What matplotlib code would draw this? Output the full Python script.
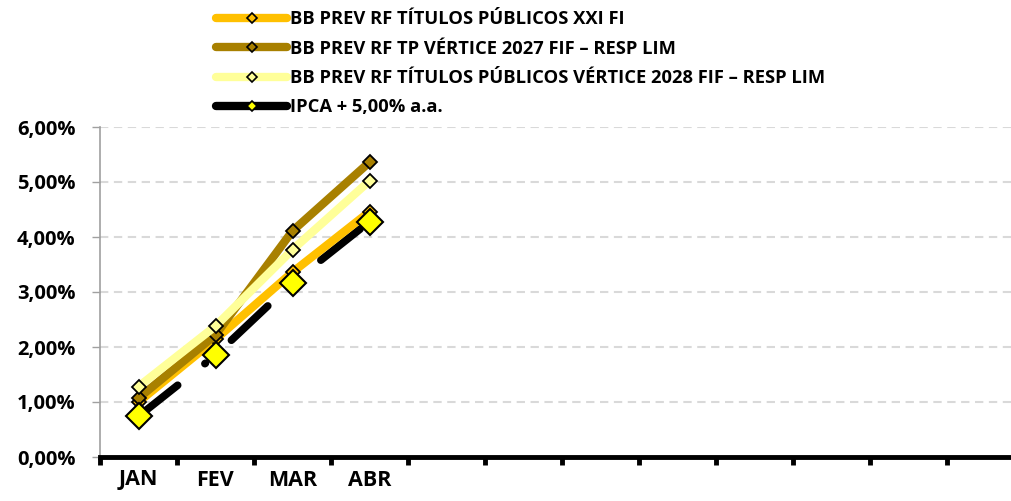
import matplotlib
matplotlib.use("Agg")
import matplotlib.pyplot as plt
from matplotlib.lines import Line2D
from matplotlib.ticker import FuncFormatter, MultipleLocator

plt.rcParams['font.family'] = ['Open Sans', 'DejaVu Sans']
plt.rcParams['font.weight'] = 'bold'
plt.rcParams['lines.scale_dashes'] = False

# data (percent, accumulated)
months = ["JAN", "FEV", "MAR", "ABR", "", "", "", "", "", "", "", ""]
xxi = [1.00, 2.14, 3.36, 4.46]
v2027 = [1.07, 2.22, 4.11, 5.36]
v2028 = [1.28, 2.38, 3.77, 5.02]
ipca = [0.74, 1.85, 3.17, 4.28]

names = ["BB PREV RF TÍTULOS PÚBLICOS XXI FI",
         "BB PREV RF TP VÉRTICE 2027 FIF – RESP LIM",
         "BB PREV RF TÍTULOS PÚBLICOS VÉRTICE 2028 FIF – RESP LIM",
         "IPCA + 5,00% a.a."]
colors = ["#FFC000", "#A88000", "#FFFF99", "#000000"]

fig = plt.figure(figsize=(10.11, 5.01), dpi=100)
ax = fig.add_axes([100 / 1011, 44 / 501, 924 / 1011, 330 / 501])

x = list(range(len(ipca)))

# IPCA line goes under the funds, markers on top
ax.plot(x, ipca, color="black", lw=5.5, ls=(0, (36, 25, 0.5, 25)),
        dash_capstyle="round", zorder=2)
for vals, c in zip([xxi, v2027, v2028], colors[:3]):
    ax.plot(x, vals, color=c, lw=6, solid_capstyle="round", zorder=3,
            marker="D", ms=7, mfc=c, mec="black", mew=1.3)
ax.plot(x, ipca, ls="none", marker="D", ms=13, mfc="#FFFF00", mec="black",
        mew=1.5, zorder=5)

ax.set_xlim(-0.5, 11.5)
ax.set_ylim(0, 6)
ax.yaxis.set_major_locator(MultipleLocator(1))
ax.yaxis.set_major_formatter(FuncFormatter(lambda v, p: f"{v:.2f}%".replace(".", ",")))
ax.grid(axis="y", color="#D9D9D9", lw=1.5, ls=(0, (6, 4)))
ax.set_axisbelow(True)

ax.set_xticks([i - 0.5 for i in range(13)])
ax.set_xticklabels([])
ax.set_xticks(range(12), minor=True)
ax.set_xticklabels(months, minor=True, fontsize=15.5, fontweight="bold")
ax.tick_params(axis="x", which="major", length=6, width=3.5, color="black", direction="out")
ax.tick_params(axis="x", which="minor", length=0, pad=9)
ax.tick_params(axis="y", length=5.5, width=1, color="#A0A0A0", labelsize=14.5, pad=12)

for s in ["top", "right"]:
    ax.spines[s].set_visible(False)
ax.spines["left"].set_color("#A0A0A0")
ax.spines["left"].set_linewidth(1.2)
ax.spines["bottom"].set_color("black")
ax.spines["bottom"].set_linewidth(3.5)

handles = []
for i, (n, c) in enumerate(zip(names, colors)):
    mfc = "#FFFF00" if i == 3 else c
    handles.append(Line2D([], [], color=c, lw=6, solid_capstyle="round",
                          marker="D", ms=5, mfc=mfc, mec="black", mew=1.2))
fig.legend(handles, names, loc="upper left", bbox_to_anchor=(203 / 1011, 1.005),
           frameon=False, handlelength=3.9, handletextpad=0.15,
           labelspacing=0.62, borderaxespad=0.3, prop={"weight": "bold", "size": 13.2})

fig.savefig("out.png", dpi=100)
